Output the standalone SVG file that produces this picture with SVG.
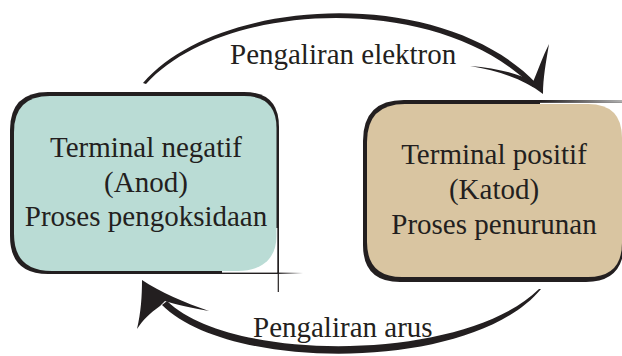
<svg xmlns="http://www.w3.org/2000/svg" width="622" height="356" viewBox="0 0 622 356">
<defs>
<style>
.t{font-family:"Liberation Serif","Times New Roman",serif;font-size:29px;fill:#231f20;text-anchor:middle}
.lbl{font-family:"Liberation Serif","Times New Roman",serif;font-size:29px;fill:#231f20}
.ink{fill:#231f20}
</style>
<linearGradient id="fadeR" x1="0" y1="0" x2="1" y2="0">
<stop offset="0" stop-color="#231f20"/>
<stop offset="1" stop-color="#231f20" stop-opacity="0"/>
</linearGradient>
<linearGradient id="fadeG" x1="0" y1="0" x2="1" y2="0">
<stop offset="0" stop-color="#231f20"/>
<stop offset="1" stop-color="#b0b0b0"/>
</linearGradient>
</defs>
<rect width="622" height="356" fill="#ffffff"/>

<g id="anode">
<path class="ink" d="M279,274 L48,274 Q10,274 10,236 L10,130 Q10,92 48,92 L244,92 Q279,92 279,127 Z"/>
<rect x="222" y="228" width="55.3" height="44.6" fill="#ffffff"/>
<path fill="#badcd5" d="M276.5,236 C276.5,260 260,271 238,271 L52,271 Q14,271 14,234 L14,132 Q14,96 50,96 L244,96 Q276.5,96 276.5,128 Z"/>
<line x1="278.3" y1="272" x2="278.3" y2="292" stroke="#231f20" stroke-width="1.2"/>
<rect x="279" y="272.6" width="24" height="1.3" fill="url(#fadeR)"/>
<text class="t" x="146" y="157">Terminal negatif</text>
<text class="t" x="146" y="192">(Anod)</text>
<text class="t" x="146" y="226">Proses pengoksidaan</text>
</g>

<g id="cathode">
<path class="ink" d="M626,100 L404,100 Q363,100 363,141 L363,245 Q363,282 400,282 L586,282 Q624,282 624,243 L626,243 Z"/>
<rect x="540" y="102.6" width="86" height="138" fill="#ffffff"/>
<path fill="#d9c5a1" d="M405,104 L588,104 Q622,104 622,138 L622,243 Q622,277 588,277 L402,277 Q367,277 367,242 L367,142 Q367,104 405,104 Z"/>
<rect x="540" y="100" width="82" height="2.6" fill="url(#fadeG)"/>
<text class="t" x="494" y="164">Terminal positif</text>
<text class="t" x="494" y="199">(Katod)</text>
<text class="t" x="494" y="234">Proses penurunan</text>
</g>

<g id="connectors">
<path class="ink" d="M143,83 C218,-4 442,-16 537,84 L533,87 C438,-9 222,0 146,84 Z"/>
<path class="ink" d="M543,94 C525,80 500,71 470,66 C497,68 520,74 533,82 C538,70 543,56 549,44 C546,62 543,78 543,94 Z"/>
<text class="lbl" x="230" y="64">Pengaliran elektron</text>
<path class="ink" d="M541,289 C472,373 228,372 162,305 L167,301 C232,364 466,362 539,289 Z"/>
<path class="ink" d="M142,280 C160,292 185,303 209,311 C190,308 175,304 165,301 L160,306 C150,313 143,320 137,329 C141,312 142,296 142,280 Z"/>
<text class="lbl" x="253" y="337">Pengaliran arus</text>
</g>
</svg>
